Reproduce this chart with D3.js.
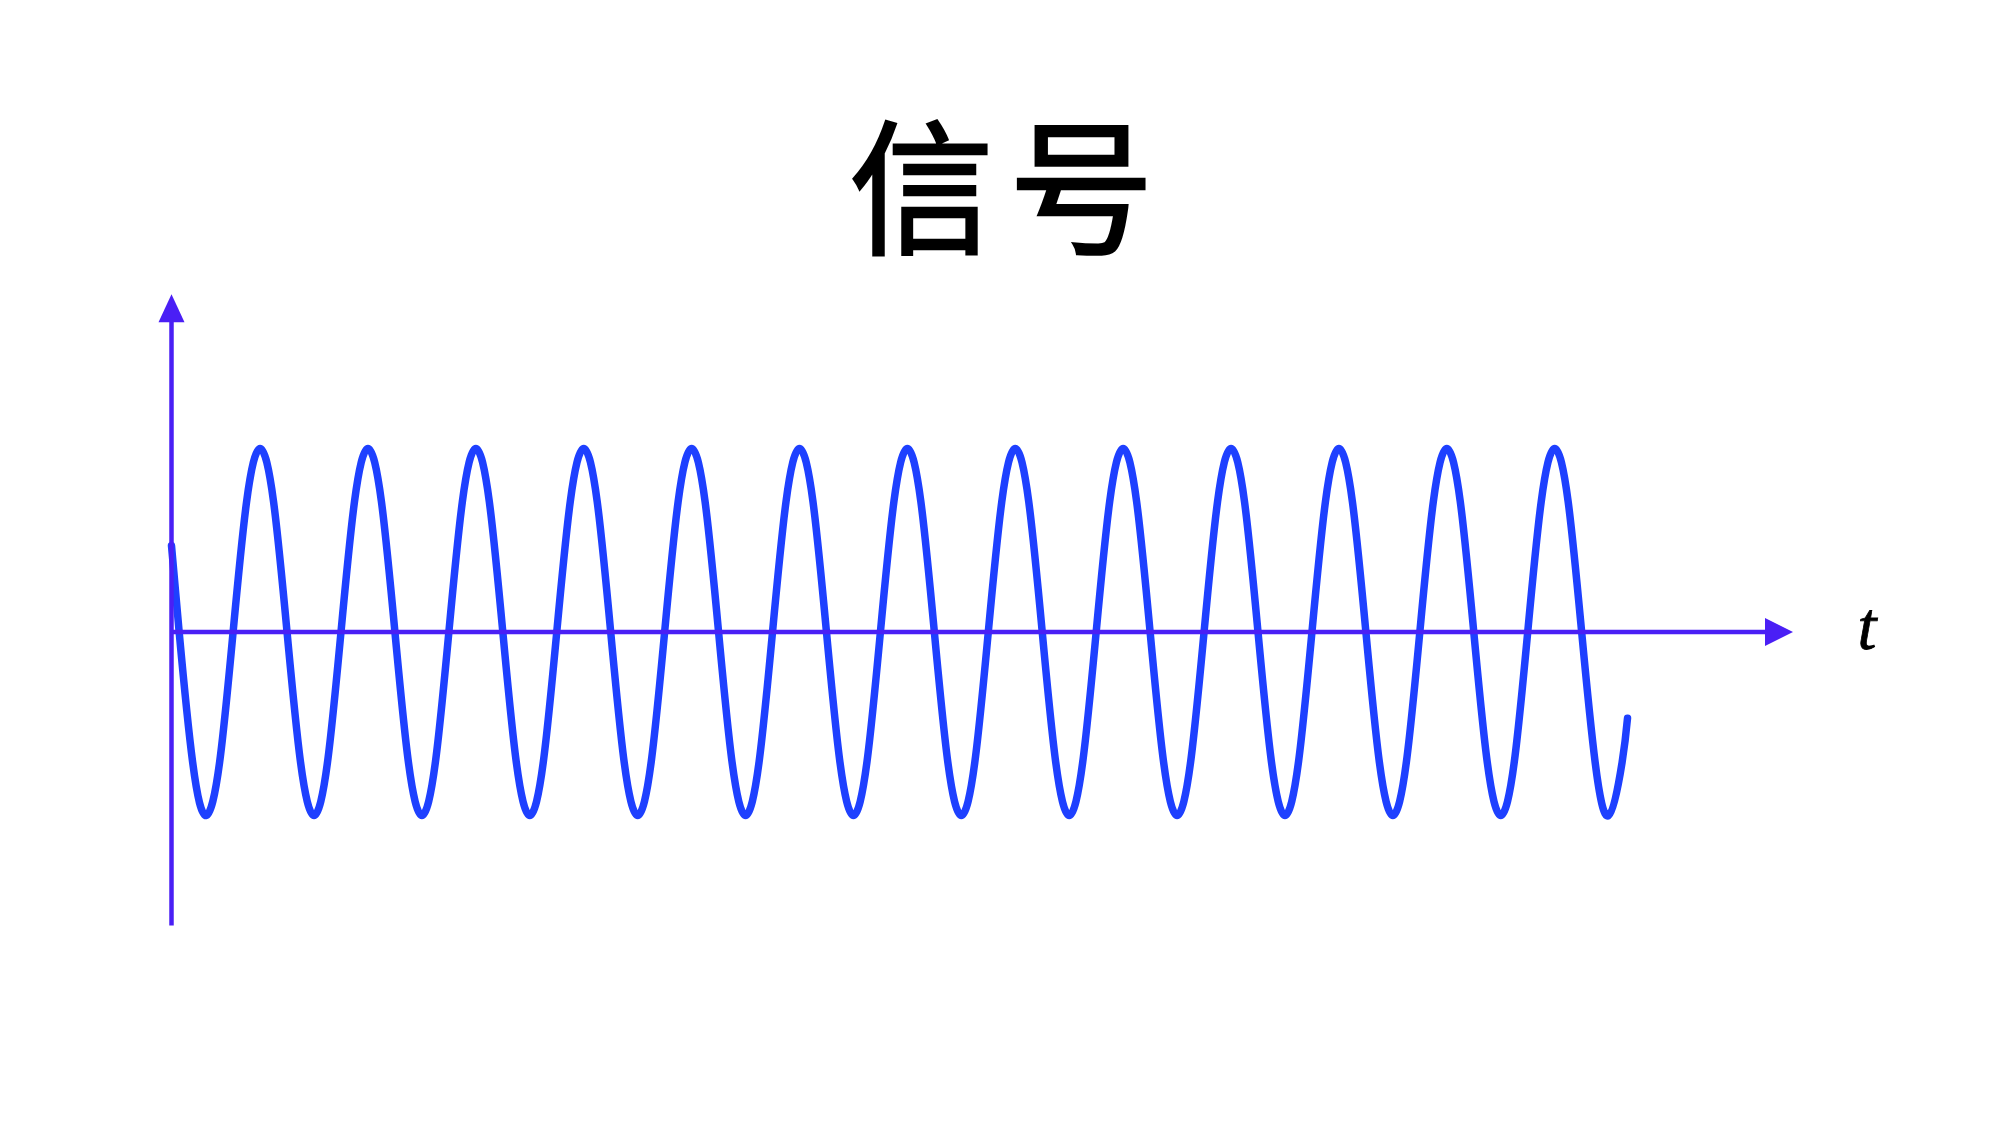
<!DOCTYPE html>
<html><head><meta charset="utf-8">
<script src="https://cdn.jsdelivr.net/npm/d3@7"></script>
<style>html,body{margin:0;padding:0;background:#fff;}svg{display:block;}</style>
</head><body>
<script>
// Data (t in periods, signal amplitude normalised to ±1)
const title = "信号";
const axisLabel = "t";
const startPoint = [0, 0.47];
const endPoint = [13.496, -0.47];
const peakTimes = [0.821, 1.821, 2.821, 3.821, 4.821, 5.821, 6.821, 7.821, 8.821, 9.821, 10.821, 11.821, 12.821];
const troughTimes = [0.321, 1.321, 2.321, 3.321, 4.321, 5.321, 6.321, 7.321, 8.321, 9.321, 10.321, 11.321, 12.321, 13.321];
const zeroTimes = [0.071, 0.571, 1.071, 1.571, 2.071, 2.571, 3.071, 3.571, 4.071, 4.571, 5.071, 5.571, 6.071, 6.571,
  7.071, 7.571, 8.071, 8.571, 9.071, 9.571, 10.071, 10.571, 11.071, 11.571, 12.071, 12.571, 13.071];
// shoulder points (about 0.71 of the amplitude) on either side of each peak / trough
const upperShoulderTimes = [0.696, 0.946, 1.696, 1.946, 2.696, 2.946, 3.696, 3.946, 4.696, 4.946, 5.696, 5.946, 6.696, 6.946,
  7.696, 7.946, 8.696, 8.946, 9.696, 9.946, 10.696, 10.946, 11.696, 11.946, 12.696, 12.946];
const lowerShoulderTimes = [0.196, 0.446, 1.196, 1.446, 2.196, 2.446, 3.196, 3.446, 4.196, 4.446, 5.196, 5.446, 6.196, 6.446,
  7.196, 7.446, 8.196, 8.446, 9.196, 9.446, 10.196, 10.446, 11.196, 11.446, 12.196, 12.446, 13.196, 13.446];
const shoulderValue = 0.71;
const tAxisEnd = 15.03;
const yAxisRange = [-1.6, 1.84];

const W = 2000, H = 1126;
const svg = d3.select("body").append("svg").attr("width", W).attr("height", H);

const x = d3.scaleLinear().domain([0, 15]).range([171.5, 1793 - 0.03 * 107.85]);
const y = d3.scaleLinear().domain([-1, 1]).range([815.5, 448.5]);

const pts = [startPoint]
  .concat(peakTimes.map(t => [t, 1]))
  .concat(troughTimes.map(t => [t, -1]))
  .concat(zeroTimes.map(t => [t, 0]))
  .concat(upperShoulderTimes.map(t => [t, shoulderValue]))
  .concat(lowerShoulderTimes.map(t => [t, -shoulderValue]))
  .concat([endPoint])
  .sort((a, b) => a[0] - b[0]);

const axisColor = "#4a1ff5";
const waveColor = "#1e40ff";

// title
svg.append("text").attr("x", 1009).attr("y", 243)
  .attr("text-anchor", "middle")
  .attr("font-family", "'Noto Sans CJK SC', sans-serif")
  .attr("font-size", 145).attr("font-weight", 400)
  .attr("letter-spacing", 15)
  .attr("fill", "#000").attr("stroke", "#000").attr("stroke-width", 2.5)
  .attr("stroke-linejoin", "miter").text(title);

// wave
svg.append("path").datum(pts)
  .attr("d", d3.line().x(d => x(d[0])).y(d => y(d[1])).curve(d3.curveNatural))
  .attr("fill", "none").attr("stroke", waveColor).attr("stroke-width", 7.5)
  .attr("stroke-linecap", "round").attr("stroke-linejoin", "round");

// axes
const x0 = x(0), y0 = y(0);
const xEnd = x(tAxisEnd), yTop = y(yAxisRange[1]), yBot = y(yAxisRange[0]);
svg.append("line").attr("x1", x0).attr("x2", xEnd - 20).attr("y1", y0).attr("y2", y0)
  .attr("stroke", axisColor).attr("stroke-width", 4.5);
svg.append("path").attr("d", `M${xEnd},${y0} L${xEnd - 28},${y0 - 14} L${xEnd - 28},${y0 + 14} Z`)
  .attr("fill", axisColor);
svg.append("line").attr("x1", x0).attr("x2", x0).attr("y1", yBot).attr("y2", yTop + 20)
  .attr("stroke", axisColor).attr("stroke-width", 4.5);
svg.append("path").attr("d", `M${x0},${yTop} L${x0 - 13},${yTop + 28} L${x0 + 13},${yTop + 28} Z`)
  .attr("fill", axisColor);

svg.append("text").attr("x", 1867).attr("y", 649).attr("text-anchor", "middle")
  .attr("font-family", "'Liberation Serif', 'Times New Roman', serif")
  .attr("font-style", "italic").attr("font-size", 68).attr("fill", "#000")
  .attr("stroke", "#000").attr("stroke-width", 0.8).text(axisLabel);
</script>
</body></html>
